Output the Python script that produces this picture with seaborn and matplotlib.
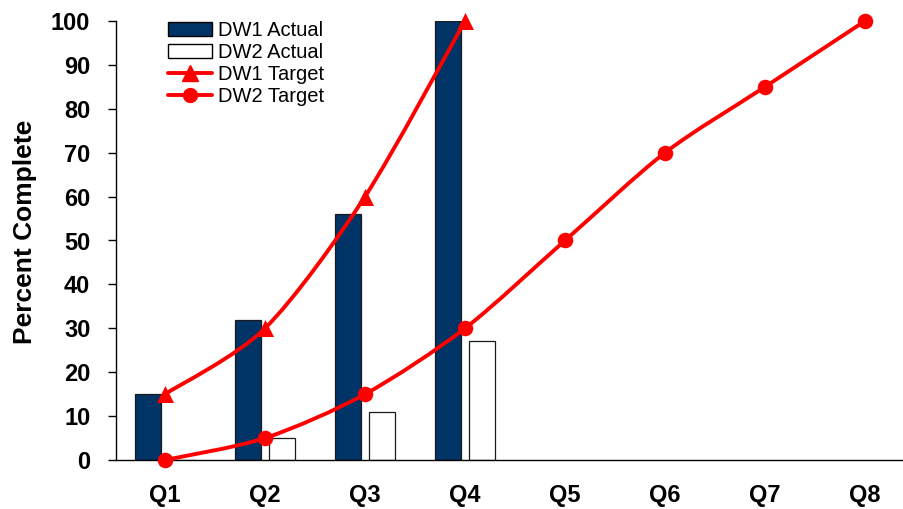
import numpy as np
import pandas as pd
import matplotlib
matplotlib.use("Agg")
import matplotlib.pyplot as plt
from matplotlib.path import Path
from matplotlib.patches import PathPatch, Patch
from matplotlib.lines import Line2D
import seaborn as sns

quarters = ["Q1", "Q2", "Q3", "Q4", "Q5", "Q6", "Q7", "Q8"]
actual_quarters = ["Q1", "Q2", "Q3", "Q4"]
dw1_actual = [15, 32, 56, 100]
dw2_actual = [0, 5, 11, 27]
dw1_target = [15, 30, 60, 100]
dw2_target = [0, 5, 15, 30, 50, 70, 85, 100]

NAVY = "#003366"
RED = "#FF0000"

sns.set_theme(style="white")
plt.rcParams["font.family"] = ["Liberation Sans", "DejaVu Sans"]
plt.rcParams["text.color"] = "black"

fig = plt.figure(figsize=(9.04, 5.09), dpi=100)
ax = fig.add_axes([116 / 904, 49 / 509, 1 - 116 / 904, 439 / 509])

bars = pd.DataFrame({
    "quarter": actual_quarters * 2,
    "value": dw1_actual + dw2_actual,
    "series": ["DW1 Actual"] * 4 + ["DW2 Actual"] * 4,
})
sns.barplot(data=bars, x="quarter", y="value", hue="series", order=quarters,
            hue_order=["DW1 Actual", "DW2 Actual"],
            palette={"DW1 Actual": NAVY, "DW2 Actual": "white"}, saturation=1,
            width=0.68, gap=0.235, edgecolor="#1a1a1a", linewidth=0.9,
            legend=False, ax=ax, zorder=2)


def smooth_path(xs, ys):
    pts = np.column_stack([xs, ys]).astype(float)
    n = len(pts)
    verts = [pts[0]]
    codes = [Path.MOVETO]
    for i in range(n - 1):
        p0 = pts[i - 1] if i > 0 else pts[i]
        p1 = pts[i]
        p2 = pts[i + 1]
        p3 = pts[i + 2] if i + 2 < n else pts[i + 1]
        c1 = p1 + (p2 - p0) / 7.0
        c2 = p2 - (p3 - p1) / 7.0
        verts += [c1, c2, p2]
        codes += [Path.CURVE4] * 3
    return Path(verts, codes)


x1 = np.arange(len(dw1_target))
x2 = np.arange(len(dw2_target))
for xs, ys in [(x1, dw1_target), (x2, dw2_target)]:
    ax.add_patch(PathPatch(smooth_path(xs, ys), facecolor="none", edgecolor=RED,
                           lw=2.8, zorder=3, clip_on=False, capstyle="round"))

sns.scatterplot(x=x1, y=dw1_target, marker="^", s=150, color=RED, edgecolor=RED,
                linewidth=0, ax=ax, zorder=4, clip_on=False, legend=False)
sns.scatterplot(x=x2, y=dw2_target, marker="o", s=125, color=RED, edgecolor=RED,
                linewidth=0, ax=ax, zorder=4, clip_on=False, legend=False)

ax.set_xlim(-0.49, 7.39)
ax.set_ylim(0, 100)
ax.set_yticks(range(0, 101, 10))
ax.set_xticks(range(len(quarters)))
ax.set_xticklabels(quarters)
ax.set_xlabel("")
ax.set_ylabel("Percent Complete", fontsize=19, fontweight="bold", labelpad=8,
              color="black")
ax.yaxis.set_label_coords(-0.1, 0.52)

for s in ["top", "right"]:
    ax.spines[s].set_visible(False)
for s in ["left", "bottom"]:
    ax.spines[s].set_color("black")
    ax.spines[s].set_linewidth(1.0)

ax.tick_params(axis="y", which="both", left=True, length=5.5, width=1.0, color="black",
               direction="out", labelsize=17, pad=13, labelcolor="black")
ax.tick_params(axis="x", length=0, labelsize=17, pad=17, labelcolor="black")
for lab in ax.get_yticklabels() + ax.get_xticklabels():
    lab.set_fontweight("bold")

handles = [
    Patch(facecolor=NAVY, edgecolor="black", linewidth=1.0),
    Patch(facecolor="white", edgecolor="black", linewidth=1.0),
    Line2D([], [], color=RED, lw=2.8, marker="^", markersize=11),
    Line2D([], [], color=RED, lw=2.8, marker="o", markersize=10),
]
labels = ["DW1 Actual", "DW2 Actual", "DW1 Target", "DW2 Target"]
leg = fig.legend(handles, labels, loc="upper left",
                 bbox_to_anchor=(168 / 904, 1 - 21 / 509), bbox_transform=fig.transFigure,
                 frameon=False, fontsize=14.5, handlelength=2.2, handleheight=0.75,
                 handletextpad=0.3, labelspacing=0.15, borderpad=0, borderaxespad=0)
for t in leg.get_texts():
    t.set_color("black")

fig.savefig("out.png", dpi=100)
